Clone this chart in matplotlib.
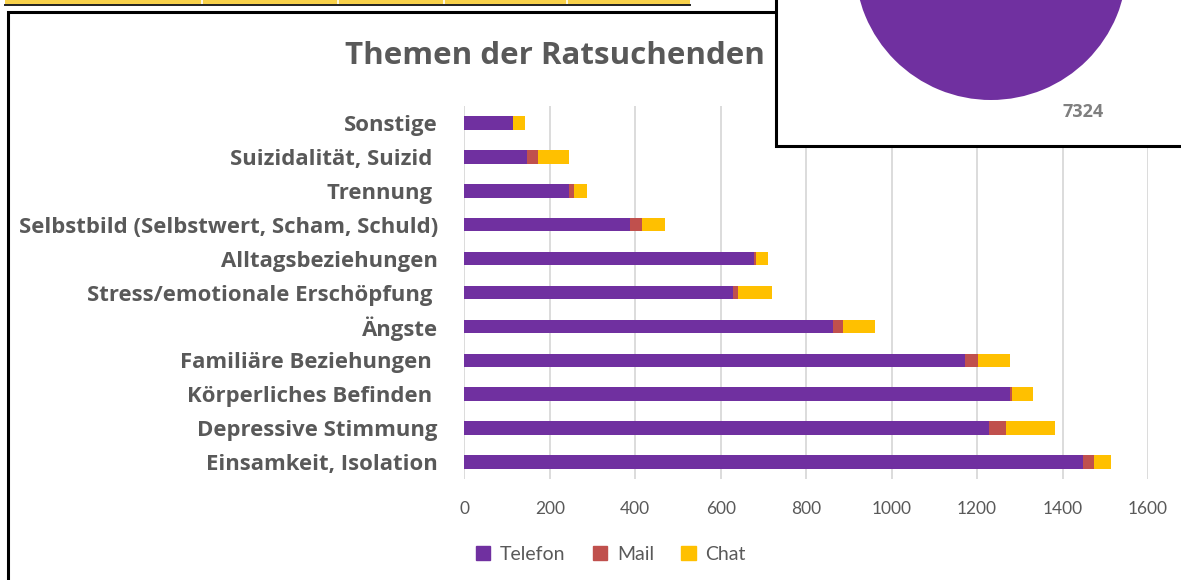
import numpy as np
import matplotlib.pyplot as plt
from matplotlib.patches import Rectangle

# %%
# data
topics = ["Einsamkeit, Isolation", "Depressive Stimmung", "Körperliches Befinden ",
          "Familiäre Beziehungen ", "Ängste", "Stress/emotionale Erschöpfung ",
          "Alltagsbeziehungen", "Selbstbild (Selbstwert, Scham, Schuld)",
          "Trennung ", "Suizidalität, Suizid ", "Sonstige"]
telefon = [1449, 1228, 1277, 1172, 862, 629, 678, 388, 246, 146, 113]
mail = [24, 40, 5, 29, 24, 11, 4, 27, 10, 26, 2]
chat = [40, 114, 48, 77, 74, 81, 28, 54, 31, 74, 27]
channels = ["Telefon", "Mail", "Chat"]
x_ticks = [0, 200, 400, 600, 800, 1000, 1200, 1400, 1600]
pie_total = 7324

colors = ["#7030A0", "#C0504D", "#FFC000"]
grey = "#595959"
font = "Open Sans"

W, H = 1181, 580
fig = plt.figure(figsize=(W / 100, H / 100), dpi=100)
fig.patch.set_facecolor("white")

# %%
# stacked bars
ax = fig.add_axes([464.3 / W, 1 - 479 / H, (1148 - 464.3) / W, (479 - 106) / H])
y = np.arange(len(topics))
left = np.zeros(len(topics))
for name, vals, c in zip(channels, [telefon, mail, chat], colors):
    ax.barh(y, vals, left=left, height=0.4, color=c, label=name, zorder=3)
    left += np.array(vals)

ax.set_xlim(0, 1600)
ax.set_ylim(-0.5, len(topics) - 0.5)
ax.set_xticks(x_ticks)
ax.set_xticklabels([str(t) for t in x_ticks], fontsize=12.5, color=grey, family="Lato")
ax.set_yticks(y)
ax.set_yticklabels(topics, fontsize=15.9, color=grey, family=font, fontweight="bold")
ax.tick_params(axis="both", length=0)
ax.tick_params(axis="y", pad=19)
ax.tick_params(axis="x", pad=16)
ax.grid(axis="x", color="#d9d9d9", linewidth=1.3, zorder=0)
for s in ax.spines.values():
    s.set_visible(False)

ax.text(345 / W, 1 - 56 / H, "Themen der Ratsuchenden", transform=fig.transFigure,
        fontsize=22.5, fontweight="bold", color=grey, family=font,
        ha="left", va="center", clip_on=False)

handles = [Rectangle((0, 0), 1, 1, color=c) for c in colors]
leg = fig.legend(handles, channels, loc="center left", bbox_to_anchor=(458 / W, 1 - 554 / H),
                 ncol=3, frameon=False, handlelength=0.75, handleheight=0.75,
                 handletextpad=0.5, columnspacing=1.4,
                 prop={"family": "Lato", "size": 14})
for t in leg.get_texts():
    t.set_color(grey)

# %%
# surrounding bits of the screenshot (pixel coordinates)
deco = fig.add_axes([0, 0, 1, 1], zorder=5)
deco.set_xlim(0, W)
deco.set_ylim(H, 0)
deco.axis("off")
deco.patch.set_alpha(0)

# yellow table strip at the top
deco.add_patch(Rectangle((5, -2), 685, 6.5, facecolor="#F8D14A", edgecolor="none"))
for xs in [202, 338, 444, 567]:
    deco.plot([xs, xs], [-2, 4.5], color="white", lw=1.2)
deco.plot([5, 690], [5, 5], color="#222222", lw=1.4)

# chart frame
deco.plot([7.5, 7.5, W + 5], [H + 5, 12, 12], color="black", lw=2.2, solid_joinstyle="miter")

# pie chart box overlapping the chart
deco.add_patch(Rectangle((775.5, -10), 420, 155.5, facecolor="white",
                         edgecolor="black", lw=2.2, zorder=2))
wedges, _ = deco.pie([pie_total], colors=["#7030A0"], radius=136, center=(991, -36),
                     startangle=90, frame=True)
for w in wedges:
    w.set_zorder(3)
    w.set_clip_path(Rectangle((777, -10), 420, 154, transform=deco.transData))
deco.text(1083, 112, str(pie_total), fontsize=13, fontweight="bold", color="#7f7f7f",
          family=font, ha="center", va="center", zorder=4)
deco.set_xlim(0, W)
deco.set_ylim(H, 0)
deco.set_aspect("auto")
deco.axis("off")

plt.savefig("out.png", dpi=100)
